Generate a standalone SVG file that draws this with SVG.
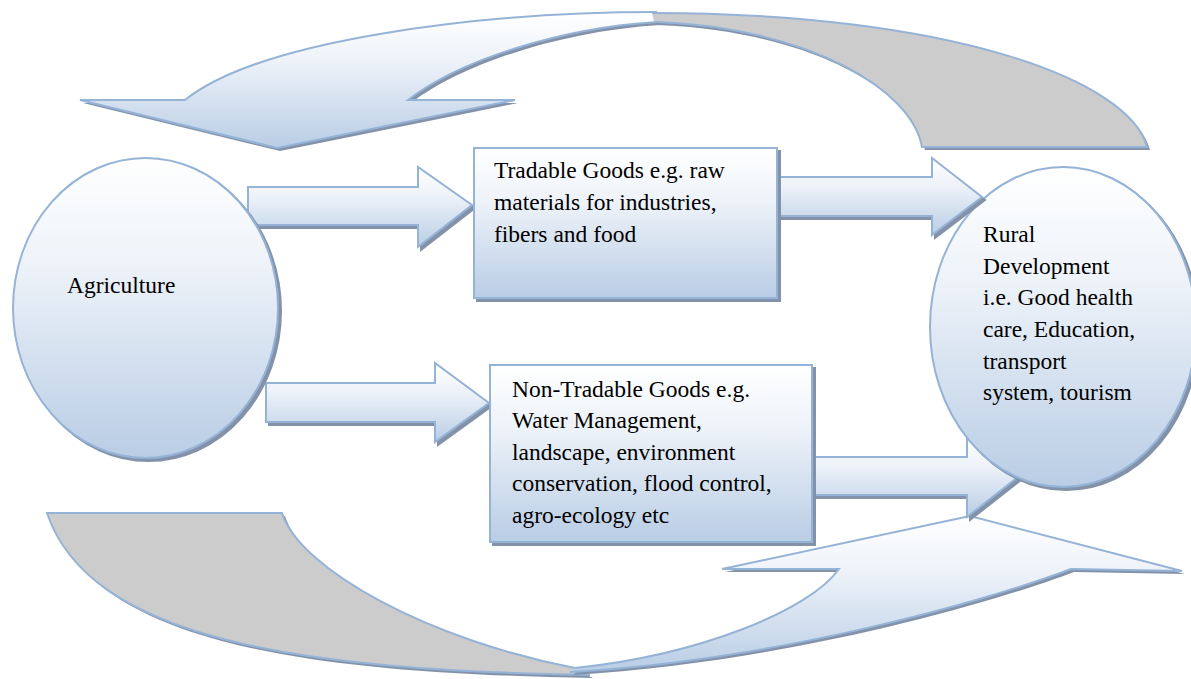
<svg xmlns="http://www.w3.org/2000/svg" width="1191" height="679" viewBox="0 0 1191 679">
<defs>
<linearGradient id="gb" x1="0" y1="0" x2="0" y2="1">
<stop offset="0" stop-color="#ffffff"/>
<stop offset="0.35" stop-color="#eef3f9"/>
<stop offset="1" stop-color="#b9cde5"/>
</linearGradient>
<filter id="ds" x="-10%" y="-10%" width="130%" height="130%">
<feGaussianBlur in="SourceAlpha" stdDeviation="0.6" result="b"/>
<feOffset in="b" dx="2.5" dy="3" result="o"/>
<feFlood flood-color="#8392a8"/>
<feComposite in2="o" operator="in" result="s"/>
<feMerge><feMergeNode in="s"/><feMergeNode in="SourceGraphic"/></feMerge>
</filter>
<style>
.lt{fill:url(#gb);stroke:#95b3d7;stroke-width:2;stroke-linejoin:miter;filter:url(#ds)}
.ltf{fill:url(#gb);stroke:none;filter:url(#ds)}
.grf{fill:#cccccc;stroke:none;filter:url(#ds)}
.ln{fill:none;stroke:#95b3d7;stroke-width:2}
text{font-family:"Liberation Serif","Times New Roman","DejaVu Serif",serif;font-size:23.5px;fill:#000}
</style>
</defs>
<rect width="1191" height="679" fill="#ffffff"/>

<g id="connectors">
<g id="top-curved-arrow">
<path class="ltf" d="M 80,100 L 185,100 C 260,40 480,12 657,12 L 657,22 C 560,28 460,60 408,100 L 515,100 L 277,148 Z"/>
<path class="grf" d="M 652,13 C 950,13 1130,80 1147,147 L 922,147 C 912,90 810,28 654,22 Z"/>
<path class="ln" d="M 652,13 C 950,13 1130,80 1147,147 L 922,147 C 912,90 810,28 657,22"/>
<path class="ln" d="M 657,12 C 480,12 260,40 185,100 L 80,100 L 277,148 L 515,100 L 408,100 C 460,60 560,28 657,22"/>
</g>
<g id="bottom-curved-arrow">
<path class="grf" d="M 47,513 L 282,513 C 300,570 430,640 575,668 L 590,675 C 300,670 90,640 47,513 Z"/>
<path class="ln" d="M 575,668 C 430,640 300,570 282,513 L 47,513 C 90,640 300,670 590,675"/>
<path class="ltf" d="M 570,672 C 780,660 990,600 1071,569 L 1182,571 L 970,516 L 722,569 L 839,569 C 810,610 700,655 575,668 Z"/>
<path class="ln" d="M 570,672 C 780,660 990,600 1071,569 L 1182,571 L 970,516 L 722,569 L 839,569 C 810,610 700,655 575,668"/>
</g>
<path id="arrow-agri-trad" class="lt" d="M 248,187 L 418,187 L 418,167 L 472,205 L 418,247 L 418,225 L 248,225 Z"/>
<path id="arrow-agri-nontrad" class="lt" d="M 266,383 L 435,383 L 435,363 L 489,403 L 435,442 L 435,422 L 266,422 Z"/>
<path id="arrow-nontrad-rural" class="lt" d="M 812,457 L 967,457 L 967,437 L 1018,477 L 967,517 L 967,495 L 812,495 Z"/>
</g>

<g id="node-agriculture">
<ellipse class="lt" cx="145.5" cy="308" rx="132.5" ry="150"/>
<text x="67" y="293">Agriculture</text>
</g>

<g id="node-rural">
<ellipse class="lt" cx="1063" cy="327" rx="133" ry="160"/>
<text x="983" y="242">Rural</text>
<text x="983" y="273.5">Development</text>
<text x="983" y="305">i.e. Good health</text>
<text x="983" y="337">care, Education,</text>
<text x="983" y="368.5">transport</text>
<text x="983" y="400">system, tourism</text>
</g>

<path id="arrow-trad-rural" class="lt" d="M 777,177 L 932,177 L 932,158 L 982,197 L 932,235 L 932,216 L 777,216 Z"/>

<g id="node-tradable">
<rect class="lt" x="474" y="148" width="303" height="150"/>
<text x="494" y="178">Tradable Goods e.g. raw</text>
<text x="494" y="210">materials for industries,</text>
<text x="494" y="242">fibers and food</text>
</g>

<g id="node-nontradable">
<rect class="lt" x="490" y="365" width="322" height="177"/>
<text x="512" y="397">Non-Tradable Goods e.g.</text>
<text x="512" y="428">Water Management,</text>
<text x="512" y="459.5">landscape, environment</text>
<text x="512" y="491">conservation, flood control,</text>
<text x="512" y="522.5">agro-ecology etc</text>
</g>
</svg>
